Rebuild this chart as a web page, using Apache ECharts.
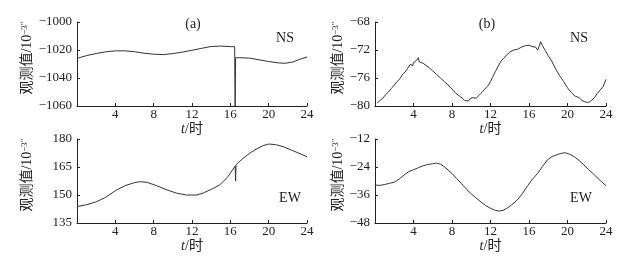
<!DOCTYPE html>
<html>
<head>
<meta charset="utf-8">
<script src="https://cdn.jsdelivr.net/npm/echarts@6/dist/echarts.min.js"></script>
<style>
    html, body { margin: 0; padding: 0; background: #fff; }
    #chart { width: 628px; height: 257px; }
</style>
</head>
<body>
<div id="chart"></div>
<script>
// 时间刻度
var xTicks = [0, 4, 8, 12, 16, 20, 24];

// (a) NS
var aNsT = [0, 1, 2, 3, 4, 5, 6, 7, 8, 9, 10, 11, 12, 13, 14, 15, 16, 16.45, 16.5, 16.55, 17, 18, 19, 20, 21, 21.7, 22.5, 23.3, 24];
var aNsV = [-1026, -1024, -1022.5, -1021.3, -1020.6, -1020.6, -1021.2, -1022.3, -1023, -1023.3, -1022.6, -1021.5, -1020.2, -1018.8, -1017.5, -1017.2, -1017.6, -1017.6, -1060, -1025.5, -1025.5, -1025.8, -1027, -1028.2, -1029.2, -1029.5, -1028.6, -1026.5, -1025];

// (a) EW
var aEwT = [0, 1, 2, 3, 4, 5, 6, 6.5, 7.3, 8.3, 9.4, 10.4, 11.4, 12.5, 13.3, 14.2, 14.9, 15.7, 16.5, 16.55, 16.6, 17.3, 18, 18.7, 19.4, 20, 20.7, 21.5, 22.5, 24];
var aEwV = [143.8, 144.8, 146.3, 148.8, 152.3, 155, 156.6, 157.1, 156.8, 155, 152.7, 151, 150, 150, 151.3, 153.5, 155.4, 159.5, 165.5, 157.5, 166.3, 169.5, 172.3, 174.6, 176.4, 177.3, 177, 175.9, 173.8, 170.5];

// (b) NS
var bNsT = [0.25, 0.5, 0.8, 1.1, 1.4, 1.7, 2.0, 2.3, 2.6, 2.8, 3.0, 3.2, 3.4, 3.6, 3.7, 3.9, 4.0, 4.2, 4.3, 4.4, 4.5, 4.6, 4.8, 5.0, 5.3, 5.6, 6.0, 6.4, 6.8, 7.2, 7.6, 8.0, 8.4, 8.8, 9.1, 9.3, 9.5, 9.7, 9.9, 10.2, 10.5, 10.8, 11.0, 11.2, 11.4, 11.6, 11.8, 12.0, 12.2, 12.5, 12.8, 13.1, 13.4, 13.7, 14.0, 14.4, 14.8, 15.2, 15.6, 16.0, 16.3, 16.5, 16.7, 16.9, 17.1, 17.2, 17.4, 17.7, 18.0, 18.4, 18.8, 19.2, 19.6, 20.0, 20.4, 20.8, 21.2, 21.5, 21.8, 22.2, 22.5, 22.8, 23.1, 23.4, 23.7, 24.0];
var bNsV = [-79.6, -79.2, -78.9, -78.4, -78.0, -77.5, -77.0, -76.5, -76.1, -75.6, -75.3, -75.0, -74.6, -74.4, -74.0, -74.3, -73.8, -74.0, -73.5, -73.7, -73.1, -73.7, -73.6, -73.9, -74.2, -74.5, -75.0, -75.5, -76.0, -76.5, -77.0, -77.6, -78.2, -78.6, -78.9, -79.2, -79.0, -79.3, -78.9, -78.8, -78.9, -78.5, -78.2, -77.9, -77.6, -77.3, -77.0, -76.5, -75.9, -75.1, -74.3, -73.6, -73.1, -72.7, -72.3, -72.0, -71.9, -71.6, -71.4, -71.3, -71.5, -71.3, -71.6, -72.0, -71.3, -70.8, -71.4, -72.1, -72.8, -73.7, -74.8, -75.7, -76.5, -77.4, -78.1, -78.6, -78.8, -79.2, -79.4, -79.5, -79.2, -78.8, -78.2, -77.7, -77.2, -76.2];

// (b) EW
var bEwT = [0, 0.5, 1.0, 1.5, 2.0, 2.5, 3.0, 3.5, 4.0, 4.5, 5.0, 5.5, 6.0, 6.4, 6.8, 7.2, 7.6, 8.0, 8.5, 9.0, 9.5, 10.0, 10.5, 11.0, 11.5, 12.0, 12.5, 12.9, 13.3, 13.7, 14.2, 14.8, 15.3, 15.8, 16.3, 16.9, 17.4, 17.9, 18.4, 19.0, 19.5, 19.8, 20.2, 20.7, 21.2, 21.7, 22.2, 22.8, 23.4, 24.0];
var bEwV = [-31.7, -31.9, -31.5, -31.0, -30.5, -29.2, -27.5, -26.0, -25.2, -24.3, -23.5, -22.9, -22.6, -22.3, -22.8, -23.9, -25.3, -26.8, -29.0, -31.2, -33.5, -35.5, -37.3, -39.0, -40.5, -41.7, -42.6, -42.9, -42.6, -41.7, -40.2, -38.1, -35.5, -32.4, -29.5, -26.7, -23.8, -21.0, -19.5, -18.6, -18.0, -17.9, -18.5, -19.6, -21.2, -23.1, -25.1, -27.4, -29.8, -32.0];

// y轴范围 [min, max, interval]
var yRanges = [[-1060, -1000, 20], [-80, -68, 4], [135, 180, 15], [-48, -12, 12]];

var serifFont = "'Liberation Serif', 'DejaVu Serif', 'Noto Sans CJK SC', serif";
var lineColor = '#222';

var pairs = function (t, v) {
    var out = [];
    for (var i = 0; i < t.length; i++) {
        out.push([t[i], v[i]]);
    }
    return out;
};

var grids = [
    { left: 77, top: 22, width: 230, height: 84 },
    { left: 375, top: 22, width: 231, height: 84 },
    { left: 77, top: 139, width: 230, height: 84 },
    { left: 375, top: 139, width: 231, height: 84 }
];
var yNameGaps = [42, 22, 42, 22];

var xAxes = [];
var yAxes = [];
for (var i = 0; i < 4; i++) {
    xAxes.push({
        type: 'value',
        gridIndex: i,
        min: xTicks[0],
        max: xTicks[xTicks.length - 1],
        interval: 4,
        name: '{i|t}/时',
        nameLocation: 'middle',
        nameGap: 15,
        nameTextStyle: {
            color: lineColor,
            fontFamily: serifFont,
            fontSize: 14,
            rich: {
                i: { fontStyle: 'italic', fontFamily: serifFont, fontSize: 14, color: lineColor }
            }
        },
        axisLine: { lineStyle: { color: lineColor, width: 1 } },
        axisTick: { inside: true, length: 3, lineStyle: { color: lineColor } },
        axisLabel: {
            margin: 2,
            color: lineColor,
            fontFamily: serifFont,
            fontSize: 13,
            formatter: function (v) { return v === 0 ? '' : String(v); }
        },
        splitLine: { show: false }
    });
    yAxes.push({
        type: 'value',
        gridIndex: i,
        min: yRanges[i][0],
        max: yRanges[i][1],
        interval: yRanges[i][2],
        name: '观测值/10{s|−3″}',
        nameLocation: 'middle',
        nameGap: yNameGaps[i],
        nameTextStyle: {
            color: lineColor,
            fontFamily: serifFont,
            fontSize: 14,
            padding: [0, 0, 0, 12],
            rich: {
                s: { fontSize: 9, fontFamily: serifFont, color: lineColor, padding: [0, 0, 6, 0] }
            }
        },
        axisLine: { show: true, lineStyle: { color: lineColor, width: 1 } },
        axisTick: { show: true, inside: true, length: 3, lineStyle: { color: lineColor } },
        axisLabel: {
            margin: 5,
            color: lineColor,
            fontFamily: serifFont,
            fontSize: 13,
            formatter: function (v) { return String(v).replace('-', '−'); }
        },
        splitLine: { show: false }
    });
}

var datasets = [pairs(aNsT, aNsV), pairs(bNsT, bNsV), pairs(aEwT, aEwV), pairs(bEwT, bEwV)];
var series = [];
for (var k = 0; k < 4; k++) {
    series.push({
        type: 'line',
        xAxisIndex: k,
        yAxisIndex: k,
        data: datasets[k],
        showSymbol: false,
        animation: false,
        lineStyle: { color: '#333', width: 1 }
    });
}

var labelText = function (x, y, text) {
    return {
        type: 'text',
        x: x,
        y: y,
        style: {
            text: text,
            fill: lineColor,
            font: '14px ' + serifFont,
            textAlign: 'center',
            textVerticalAlign: 'middle'
        }
    };
};

var chart = echarts.init(document.getElementById('chart'));
chart.setOption({
    animation: false,
    grid: grids,
    xAxis: xAxes,
    yAxis: yAxes,
    series: series,
    graphic: [
        labelText(193, 24, '(a)'),
        labelText(285, 38, 'NS'),
        labelText(487, 24, '(b)'),
        labelText(579, 38, 'NS'),
        labelText(290, 198, 'EW'),
        labelText(581, 198, 'EW')
    ]
});

window.addEventListener('resize', function () {
    chart.resize();
});
</script>
</body>
</html>
